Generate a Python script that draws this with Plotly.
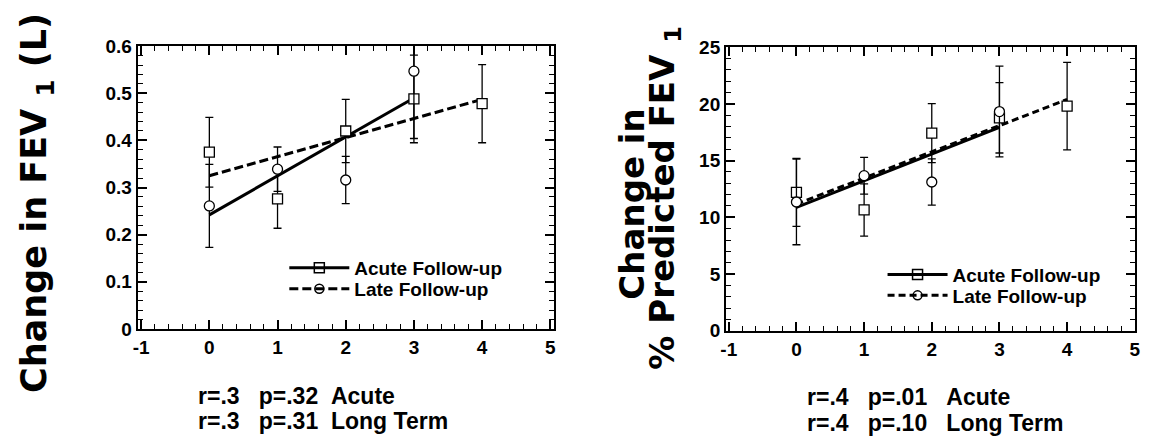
import plotly.graph_objects as go

# ---- data -------------------------------------------------------------
years = [0, 1, 2, 3]
years_late = [0, 1, 2, 3, 4]

# Change in FEV1 (L)
fev_acute = [0.375, 0.276, 0.420, 0.488]
fev_acute_err = [0.074, 0.0625, 0.067, 0.093]
fev_late = [0.261, 0.339, 0.316, 0.547, 0.478]
fev_late_err = [0.088, 0.047, 0.050, 0.143, 0.083]
fev_acute_fit_x = [0, 3]
fev_acute_fit_y = [0.242, 0.490]
fev_late_fit_x = [0, 4]
fev_late_fit_y = [0.325, 0.487]

# Change in % predicted FEV1
pct_acute = [12.2, 10.65, 17.42, 18.77]
pct_acute_err = [3.0, 2.3, 2.6, 3.1]
pct_late = [11.35, 13.67, 13.11, 19.32, 19.8]
pct_late_err = [3.77, 1.62, 2.04, 4.0, 3.85]
pct_acute_fit_x = [0, 3]
pct_acute_fit_y = [10.88, 17.93]
pct_late_fit_x = [0, 4]
pct_late_fit_y = [11.16, 20.39]

late_symbols = ["circle", "circle", "circle", "circle", "square"]

x_tick_vals = [-1, 0, 1, 2, 3, 4, 5]
x_tick_text = ["-1", "0", "1", "2", "3", "4", "5"]

series_names = ["Acute Follow-up", "Late Follow-up"]
stats_left = ["r=.3\u00a0\u00a0\u00a0p=.32\u00a0\u00a0Acute",
              "r=.3\u00a0\u00a0\u00a0p=.31\u00a0\u00a0Long Term"]
stats_right = ["r=.4\u00a0\u00a0\u00a0p=.01\u00a0\u00a0\u00a0Acute",
               "r=.4\u00a0\u00a0\u00a0p=.10\u00a0\u00a0\u00a0Long Term"]

FONT = "Liberation Sans, Arial, Helvetica, sans-serif"
TITLE_FONT = "DejaVu Sans, Liberation Sans, Arial, sans-serif"
W, H = 1153, 436

fig = go.Figure()


def add_panel(xa, ya, legends, acute, acute_err, late, late_err,
              afx, afy, lfx, lfy, dash):
    # regression lines
    fig.add_trace(go.Scatter(x=afx, y=afy, mode="lines", xaxis=xa, yaxis=ya,
                             line=dict(color="black", width=3), showlegend=False))
    fig.add_trace(go.Scatter(x=lfx, y=lfy, mode="lines", xaxis=xa, yaxis=ya,
                             line=dict(color="black", width=3, dash=dash), showlegend=False))
    # group means with error bars
    fig.add_trace(go.Scatter(
        x=years, y=acute, mode="markers", xaxis=xa, yaxis=ya, showlegend=False,
        marker=dict(symbol="square", size=10, color="white",
                    line=dict(color="black", width=1.3)),
        error_y=dict(type="data", array=acute_err, visible=True,
                     color="black", thickness=1.3, width=4)))
    fig.add_trace(go.Scatter(
        x=years_late, y=late, mode="markers", xaxis=xa, yaxis=ya, showlegend=False,
        marker=dict(symbol=late_symbols, size=10, color="white",
                    line=dict(color="black", width=1.3)),
        error_y=dict(type="data", array=late_err, visible=True,
                     color="black", thickness=1.3, width=4)))
    # legend keys (one legend box per row)
    fig.add_trace(go.Scatter(
        x=[None], y=[None], mode="lines+markers", name=series_names[0],
        xaxis=xa, yaxis=ya, legend=legends[0],
        line=dict(color="black", width=3),
        marker=dict(symbol="square-open", size=10, color="black",
                    line=dict(color="black", width=1.5))))
    fig.add_trace(go.Scatter(
        x=[None], y=[None], mode="lines+markers", name=series_names[1],
        xaxis=xa, yaxis=ya, legend=legends[1],
        line=dict(color="black", width=3, dash=dash),
        marker=dict(symbol="circle-open", size=9, color="black",
                    line=dict(color="black", width=1.5))))


add_panel("x", "y", ["legend", "legend2"], fev_acute, fev_acute_err, fev_late, fev_late_err,
          fev_acute_fit_x, fev_acute_fit_y, fev_late_fit_x, fev_late_fit_y, "9px,4px")
add_panel("x2", "y2", ["legend3", "legend4"], pct_acute, pct_acute_err, pct_late, pct_late_err,
          pct_acute_fit_x, pct_acute_fit_y, pct_late_fit_x, pct_late_fit_y, "7px,4px")

tickfont = dict(family=FONT, size=19, color="black", weight="bold")
frame = dict(ticks="inside", tickcolor="#000000", showgrid=False, zeroline=False,
             mirror="ticks", showline=True, linecolor="black", linewidth=2)


def xaxis_style(domain, rng, anchor):
    return dict(frame, domain=domain, range=rng, anchor=anchor, tickmode="array",
                tickvals=x_tick_vals, ticktext=x_tick_text, ticklen=9, tickwidth=1.8,
                tickfont=tickfont,
                minor=dict(ticks="inside", ticklen=5, tickwidth=1.4, tickcolor="#000000",
                           tickmode="linear", tick0=0, dtick=0.2, showgrid=False))


def yaxis_style(domain, rng, dtick, mdtick, anchor):
    return dict(frame, domain=domain, range=rng, dtick=dtick, tick0=0, anchor=anchor,
                ticklen=9, tickwidth=1.8, tickfont=tickfont,
                minor=dict(ticks="inside", ticklen=5, tickwidth=1.4, tickcolor="#000000",
                           tickmode="linear", tick0=0, dtick=mdtick, showgrid=False))


def legend_box(xpx, ypx):
    return dict(x=xpx / W, y=1 - ypx / H, xanchor="left", yanchor="top",
                bgcolor="rgba(0,0,0,0)", itemwidth=60,
                font=dict(family=FONT, size=19, color="black", weight="bold"))


left_x_range = [-1.05, 5.05]
right_x_range = [-1.04, 5.005]

fig.update_layout(
    width=W, height=H, margin=dict(l=0, r=0, t=0, b=0),
    paper_bgcolor="white", plot_bgcolor="rgba(0,0,0,0)",
    xaxis=xaxis_style([133 / W, 553 / W], left_x_range, "y"),
    yaxis=yaxis_style([1 - 335 / H, 1 - 38 / H], [0, 0.6], 0.1, 0.02, "x"),
    xaxis2=xaxis_style([727 / W, 1140 / W], right_x_range, "y2"),
    yaxis2=yaxis_style([1 - 337 / H, 1 - 39 / H], [0, 25], 5, 1, "x2"),
    legend=legend_box(281, 251),
    legend2=legend_box(281, 273),
    legend3=legend_box(885, 258),
    legend4=legend_box(885, 280),
    showlegend=True,
)

title_font = dict(family=TITLE_FONT, size=35, color="black", weight="bold")
stat_font = dict(family=FONT, size=23, color="black", weight="bold")

annotations = [
    dict(text="Change in FEV <sub>1</sub> (L)", x=31 / W, y=1 - 203 / H,
         font=title_font),
    dict(text="Change in", x=632 / W, y=1 - 203.5 / H, font=dict(title_font, size=34)),
    dict(text="% Predicted FEV <sub>1</sub>", x=665 / W, y=1 - 197.5 / H,
         font=dict(title_font, size=34)),
]
for a in annotations:
    fig.add_annotation(xref="paper", yref="paper", showarrow=False, textangle=-90,
                       xanchor="center", yanchor="middle", **a)

for txt, ypx in zip(stats_left, [406, 432]):
    fig.add_annotation(text=txt, x=192 / W, y=1 - ypx / H, xref="paper", yref="paper",
                       showarrow=False, xanchor="left", yanchor="middle", font=stat_font)
for txt, ypx in zip(stats_right, [407, 434]):
    fig.add_annotation(text=txt, x=807 / W, y=1 - ypx / H, xref="paper", yref="paper",
                       showarrow=False, xanchor="left", yanchor="middle", font=stat_font)

fig.write_html("out.html")
